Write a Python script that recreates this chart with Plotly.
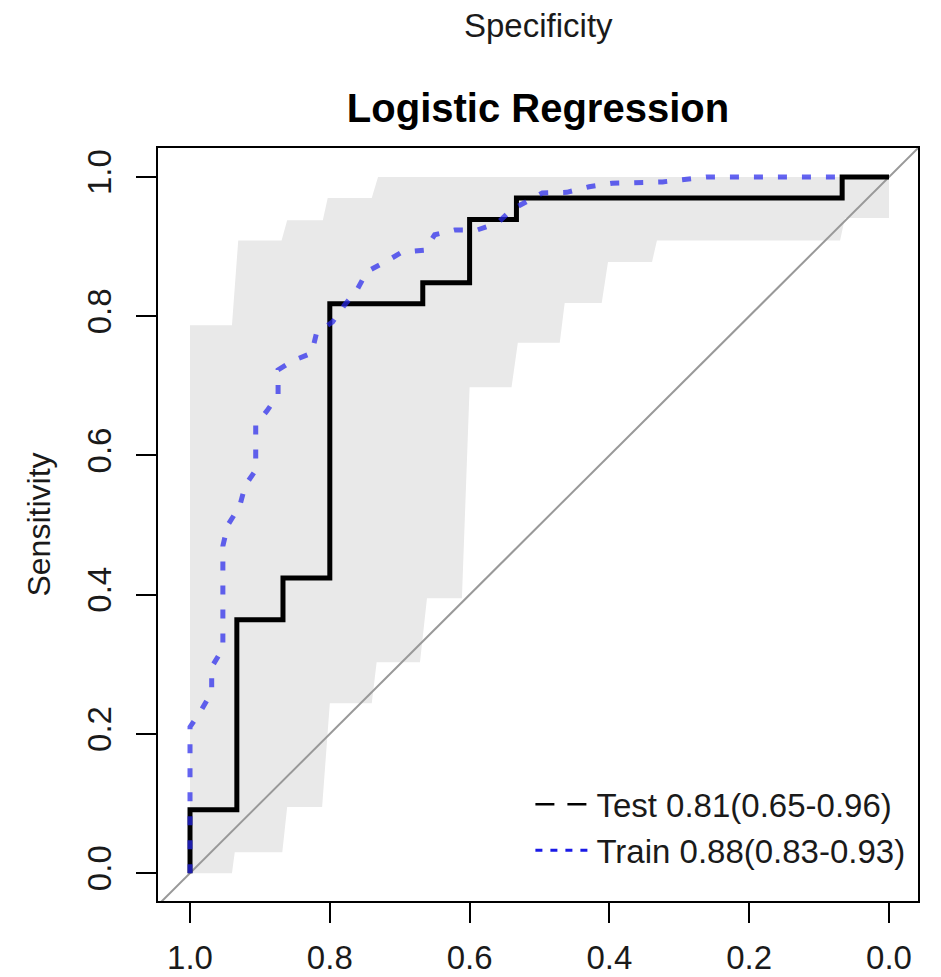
import plotly.graph_objects as go

# ---------------- data ----------------
tick_vals = [0.0, 0.2, 0.4, 0.6, 0.8, 1.0]
tick_text = ["0.0", "0.2", "0.4", "0.6", "0.8", "1.0"]

# Test ROC (specificity, sensitivity) - step curve
test_spec = [1.0, 1.0, 0.933, 0.867, 0.8, 0.667, 0.6, 0.533, 0.067, 0.0]
test_sens = [0.0, 0.091, 0.364, 0.424, 0.818, 0.848, 0.939, 0.970, 1.0, 1.0]

# Train ROC
train_spec = [1.0, 1.0, 0.984, 0.969, 0.969, 0.953, 0.953, 0.946, 0.929, 0.921, 0.906,
              0.906, 0.89, 0.874, 0.874, 0.853, 0.826, 0.819, 0.796, 0.779, 0.761,
              0.747, 0.719, 0.697, 0.664, 0.65, 0.621, 0.589, 0.56, 0.54, 0.496,
              0.461, 0.429, 0.396, 0.324, 0.29, 0.261, 0.07]
train_sens = [0.0, 0.21, 0.234, 0.26, 0.296, 0.323, 0.47, 0.50, 0.527, 0.557, 0.579,
              0.644, 0.664, 0.687, 0.723, 0.736, 0.747, 0.776, 0.792, 0.816, 0.838,
              0.864, 0.879, 0.892, 0.895, 0.917, 0.924, 0.924, 0.934, 0.953, 0.977,
              0.978, 0.986, 0.991, 0.993, 0.996, 1.0, 1.0]

# Confidence band of sensitivity (upper edge from spec 1 -> 0, lower edge from spec 0 -> 1)
band_upper_spec = [1.0, 0.94, 0.931, 0.869, 0.861, 0.81, 0.803, 0.74, 0.731, 0.0]
band_upper_sens = [0.787, 0.787, 0.909, 0.909, 0.938, 0.938, 0.97, 0.97, 1.0, 1.0]
band_lower_spec = [0.0, 0.063, 0.07, 0.332, 0.339, 0.402, 0.411, 0.464, 0.471, 0.531,
                   0.54, 0.60, 0.611, 0.661, 0.671, 0.733, 0.74, 0.80, 0.811, 0.861,
                   0.868, 0.936, 0.94, 1.0]
band_lower_sens = [0.941, 0.941, 0.909, 0.909, 0.878, 0.878, 0.819, 0.819, 0.762, 0.762,
                   0.698, 0.698, 0.395, 0.395, 0.303, 0.303, 0.244, 0.244, 0.095, 0.095,
                   0.030, 0.030, 0.0, 0.0]

test_label = "Test 0.81(0.65-0.96)"
train_label = "Train 0.88(0.83-0.93)"

x_range = [1.0458, -0.0415]
y_range = [-0.040, 1.0417]

FONT = "Liberation Sans, Arial, Helvetica, sans-serif"
TXT = "#1a1a1a"

fig = go.Figure()

# CI band
fig.add_trace(go.Scatter(
    x=band_upper_spec + band_lower_spec,
    y=band_upper_sens + band_lower_sens,
    fill="toself", fillcolor="#e9e9e9", mode="lines",
    line=dict(width=0, color="#e9e9e9"), showlegend=False, hoverinfo="skip"))

# diagonal reference line (sens = 1 - spec)
diag_x = [1.2, -0.2]
fig.add_trace(go.Scatter(
    x=diag_x, y=[1 - v for v in diag_x], mode="lines",
    line=dict(color="#999999", width=2), showlegend=False, hoverinfo="skip"))

# Test curve
fig.add_trace(go.Scatter(
    x=test_spec, y=test_sens, mode="lines", line_shape="hv",
    line=dict(color="black", width=5), showlegend=False))

# Train curve
fig.add_trace(go.Scatter(
    x=train_spec, y=train_sens, mode="lines",
    line=dict(color="rgba(40,40,235,0.72)", width=5, dash="9px,15px"),
    showlegend=False))

# legend entries (styles as in the R legend)
fig.add_trace(go.Scatter(x=[None], y=[None], mode="lines", name=test_label,
                         line=dict(color="black", width=2.5, dash="19px,13px")))
fig.add_trace(go.Scatter(x=[None], y=[None], mode="lines", name=train_label,
                         line=dict(color="#1a1ae6", width=3, dash="7px,8px")))

axis_common = dict(
    showgrid=False, zeroline=False, showline=True, mirror=True,
    linecolor="black", linewidth=2, automargin=False,
    ticks="outside", ticklen=20, tickwidth=2, tickcolor="black",
    tickvals=tick_vals, ticktext=tick_text,
    tickfont=dict(family=FONT, size=33, color=TXT),
)

fig.update_xaxes(range=x_range, ticklabelstandoff=6, **axis_common)
fig.update_yaxes(range=y_range, tickangle=-90, ticklabelstandoff=12,
                 title=dict(text="Sensitivity", font=dict(family=FONT, size=32, color=TXT),
                            standoff=21),
                 **axis_common)

fig.add_annotation(text="Specificity", xref="paper", yref="paper", x=0.5, y=1.1633,
                   showarrow=False, font=dict(family=FONT, size=33, color=TXT),
                   xanchor="center", yanchor="middle")

W, H = 925, 969
fig.update_layout(
    width=W, height=H,
    margin=dict(l=150, r=15, t=140, b=76),
    paper_bgcolor="white", plot_bgcolor="white",
    title=dict(text="<b>Logistic Regression</b>", x=0.5, xref="paper",
               y=1 - 100 / H, yref="container", xanchor="center", yanchor="middle",
               font=dict(family=FONT, size=40, color="black")),
    legend=dict(x=0.99, y=0.1656, xanchor="right", yanchor="top",
                bgcolor="rgba(0,0,0,0)", borderwidth=0, itemwidth=56,
                font=dict(family=FONT, size=33, color=TXT)),
    showlegend=True,
)

fig.write_html("out.html")
